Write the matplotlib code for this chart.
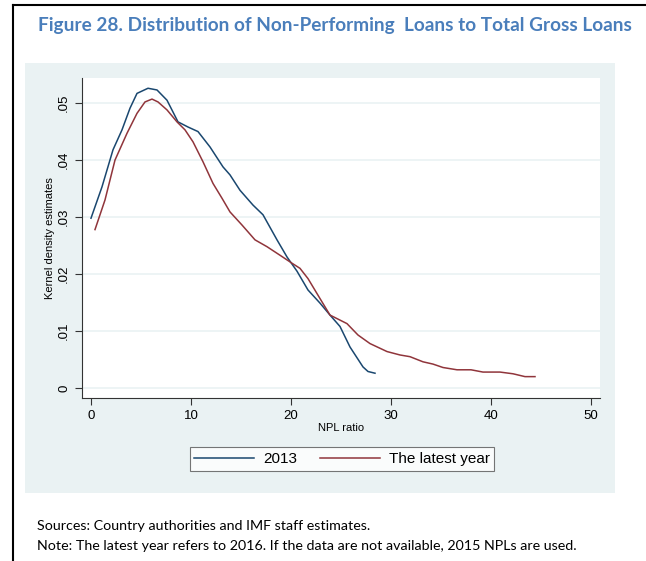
import numpy as np
import matplotlib
matplotlib.use('Agg')
import matplotlib.pyplot as plt
from matplotlib.patches import Rectangle
from matplotlib.lines import Line2D

# kernel density, 2013
x_2013 = [0.0, 1.1, 2.2, 3.1, 3.9, 4.6, 5.7, 6.6, 7.6, 8.7, 9.7, 10.7, 11.9, 13.2, 13.9,
          14.9, 16.2, 17.2, 18.6, 19.6, 20.6, 21.7, 22.9, 23.9, 24.9, 25.9, 27.2, 27.7, 28.4]
y_2013 = [0.0298, 0.0353, 0.0418, 0.0453, 0.0491, 0.0517, 0.0526, 0.0523, 0.0505, 0.0467,
          0.0458, 0.0450, 0.0423, 0.0388, 0.0374, 0.0347, 0.0321, 0.0304, 0.0260, 0.0230,
          0.0205, 0.0172, 0.0149, 0.0128, 0.0108, 0.0072, 0.0037, 0.0029, 0.0026]

# kernel density, latest year
x_latest = [0.4, 1.4, 2.4, 3.6, 4.6, 5.4, 6.1, 6.7, 7.6, 8.6, 9.4, 10.2, 11.2, 12.2, 13.1,
            13.9, 15.1, 16.4, 17.6, 18.9, 20.1, 20.9, 21.7, 22.9, 23.9, 25.6, 26.7, 27.9,
            29.6, 30.9, 31.9, 33.2, 34.2, 35.2, 36.6, 38.0, 39.2, 40.9, 42.2, 43.4, 44.4]
y_latest = [0.0278, 0.0330, 0.0400, 0.0447, 0.0482, 0.0502, 0.0507, 0.0502, 0.0488, 0.0467,
            0.0453, 0.0432, 0.0397, 0.0359, 0.0333, 0.0309, 0.0286, 0.0260, 0.0248, 0.0233,
            0.0219, 0.0210, 0.0192, 0.0157, 0.0128, 0.0113, 0.0093, 0.0078, 0.0064, 0.0058,
            0.0055, 0.0046, 0.0042, 0.0036, 0.0032, 0.0032, 0.0028, 0.0028, 0.0025, 0.0020,
            0.0020]

x_ticks = [0, 10, 20, 30, 40, 50]
y_ticks = [0, 0.01, 0.02, 0.03, 0.04, 0.05]
y_ticklabels = ['0', '.01', '.02', '.03', '.04', '.05']

navy = '#1A476F'
maroon = '#90353B'
bg = '#EAF2F3'

W, H = 646, 561
fig = plt.figure(figsize=(W / 100, H / 100), dpi=100)
fig.patch.set_facecolor('white')

def fx(px):
    return px / W

def fy(py):
    return 1 - py / H

# page border (left and top)
fig.add_artist(Line2D([fx(13), fx(13)], [fy(5), 0], color='black', lw=1.5))
fig.add_artist(Line2D([fx(13), 1], [fy(5), fy(5)], color='black', lw=1.5))

# stata graph region
fig.add_artist(Rectangle((fx(25), fy(493)), fx(615) - fx(25), fy(63) - fy(493),
                         facecolor=bg, edgecolor='none', zorder=0))

fig.text(fx(38), fy(26), 'Figure 28. Distribution of Non-Performing  Loans to Total Gross Loans',
         fontsize=13.7, fontweight='bold', color='#4A7EBB', family='Lato', va='center')

ax = fig.add_axes([fx(82), fy(398), fx(600) - fx(82), fy(78) - fy(398)])
ax.set_facecolor('white')
ax.plot(x_2013, y_2013, color=navy, lw=1.1, label='2013')
ax.plot(x_latest, y_latest, color=maroon, lw=1.1, label='The latest year')

ax.set_xlim(-0.9, 50.9)
ax.set_ylim(-0.00175, 0.0544)
ax.set_xticks(x_ticks)
ax.set_yticks(y_ticks)
ax.set_yticklabels(y_ticklabels, rotation=90, va='center')
for s in ['top', 'right']:
    ax.spines[s].set_visible(False)
for s in ['left', 'bottom']:
    ax.spines[s].set_color('#333333')
    ax.spines[s].set_linewidth(0.8)
ax.tick_params(length=5, width=0.8, color='#333333', labelsize=9.5)
for lab in ax.get_xticklabels() + ax.get_yticklabels():
    lab.set_family('Liberation Sans')
ax.grid(axis='y', color=bg, lw=1.2)
ax.set_axisbelow(True)

ax.set_xlabel('NPL ratio', fontsize=8, family='Liberation Sans', labelpad=1)
ax.set_ylabel('Kernel density estimates', fontsize=8, family='Liberation Sans', labelpad=2)

leg = fig.legend(loc='center', bbox_to_anchor=(fx(342), fy(459)), ncol=2, frameon=True,
                 fancybox=False, edgecolor='#555555',
                 prop={'family': 'Liberation Sans', 'size': 11},
                 handlelength=3.9, handletextpad=0.6, columnspacing=1.5, borderpad=0.3)
leg.get_frame().set_linewidth(0.8)

fig.text(fx(37), fy(526), 'Sources: Country authorities and IMF staff estimates.',
         fontsize=10.3, family='Lato', va='center')
fig.text(fx(37), fy(546), 'Note: The latest year refers to 2016. If the data are not available, 2015 NPLs are used.',
         fontsize=10.3, family='Lato', va='center')

fig.savefig('out.png', dpi=100)
